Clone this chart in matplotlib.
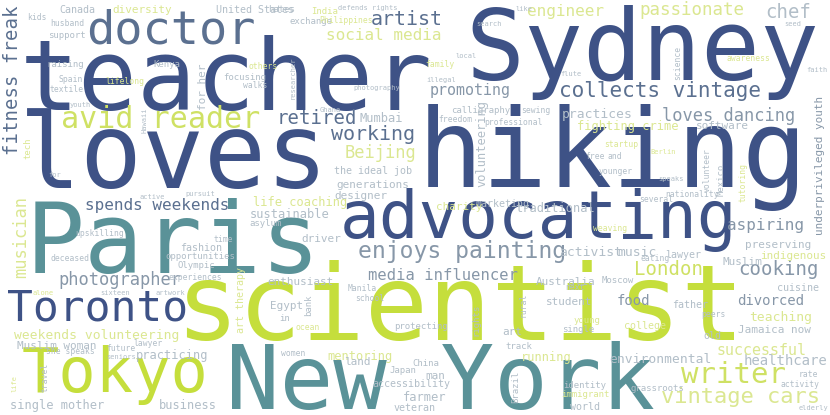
import matplotlib.pyplot as plt

# word cloud terms and their weights (weight ~ font size in px)
words = [
    "teacher", "Sydney", "loves", "hiking", "Paris", "scientist", "New York",
    "advocating", "doctor", "Toronto", "Tokyo", "avid reader", "collects vintage",
    "artist", "enjoys painting", "writer", "vintage cars", "fitness freak",
    "musician", "loves dancing", "passionate", "social media", "spends weekends",
    "photographer", "retired", "working", "Beijing", "promoting", "engineer",
    "chef", "media influencer", "aspiring", "London", "cooking", "divorced",
    "food", "healthcare", "successful", "teaching", "Jamaica now",
    "underprivileged youth", "volunteering", "practices", "fighting crime",
    "software", "traditional", "marketing", "charity", "activist", "music",
    "lawyer", "Muslim", "preserving", "indigenous", "generations", "designer",
    "the ideal job", "life coaching", "sustainable", "asylum", "driver",
    "enthusiast", "Australia", "student", "young", "single", "protecting",
    "art", "track", "running", "mentoring", "land", "man", "Japan", "China",
    "accessibility", "farmer", "veteran", "Egypt", "in", "school", "Manila",
    "women", "ocean", "bank", "rights", "rural", "Brazil", "identity", "world",
    "immigrant", "art therapy", "Canada", "diversity", "United States", "kids",
    "husband", "support", "raising", "Kenya", "Spain", "lifelong", "textile",
    "youth", "focusing", "walks", "others", "for her", "hates", "India",
    "defends rights", "exchange", "Philippines", "like", "search", "local",
    "family", "illegal", "photography", "researcher", "Ghana", "Mumbai",
    "calligraphy", "freedom", "professional", "sewing", "seed", "science",
    "awareness", "faith", "flute", "startup", "Berlin", "free", "and",
    "younger", "Mexico", "volunteer", "speaks", "tutoring", "nationality",
    "several", "weaving", "eating", "upskilling", "for", "deceased", "fashion",
    "opportunities", "time", "Olympic", "experiences", "active", "pursuit",
    "tech", "Muslim woman", "she speaks", "weekends volunteering", "alone",
    "sixteen", "artwork", "future", "lawyer", "seniors", "practicing",
    "single mother", "business", "travel", "life", "cuisine", "Moscow", "next",
    "father", "peers", "old", "college", "environmental", "rate", "activity",
    "grassroots", "elderly", "Hawaii",
]
weights = [
    98, 98, 103, 108, 98, 105, 89,
    66, 47, 43, 62, 30, 21,
    20, 23, 29, 22, 19,
    17, 17, 17.5, 16, 16,
    17, 19, 20, 17, 15, 16,
    19, 15.5, 16, 19, 19, 14,
    14, 14, 15, 13, 11,
    11, 12, 13, 12,
    11, 12, 10, 11, 13, 13,
    10, 11, 11, 11, 11, 11,
    10, 12, 12, 9, 11,
    11, 11, 11, 9, 9, 9,
    11, 9, 12, 12, 11, 11, 9, 9,
    10, 12, 10, 11, 9, 8, 8,
    8, 8, 9, 9, 8, 9, 9, 10,
    9, 10, 10, 11, 10, 8,
    8, 9, 9, 9, 8, 8, 8,
    7, 9, 8, 8, 11, 9, 9,
    7, 9, 8, 7, 7, 7,
    8, 7, 7, 7, 7, 12,
    9, 8, 8, 8, 7, 8,
    8, 7, 7, 8, 7, 8, 8,
    8, 9, 8, 7, 8, 8,
    8, 8, 8, 8, 7, 8, 10,
    9, 8, 9, 8, 7, 7,
    9, 11, 8, 13, 7,
    7, 7, 8, 8, 7, 12,
    12, 12, 8, 7, 10, 9, 8,
    10, 8, 10, 10, 13, 8, 8,
    9, 7, 7,
]

# layout: x, y (centre / baseline in px), rotation, colour tone
layout = [
    (226, 110, 0, "dk"), (642, 80, 0, "dk"), (174, 188, 0, "dk"), (613, 187, 0, "dk"),
    (173, 273, 0, "tl"), (460, 340, 0, "lm"), (440, 409, 0, "tl"),
    (538, 238, 0, "dk"), (171, 43, 0, "sl"), (98, 320, 0, "dk"), (115, 392, 0, "lm"),
    (161, 128, 0, "yl"), (660, 97, 0, "sl"),
    (407, 25, 0, "sl"), (462, 258, 0, "gr"), (733, 383, 0, "yl"), (740, 403, 0, "ly"),
    (18, 80, 90, "sl"),
    (26, 237, 90, "ly"), (729, 121, 0, "gr"), (692, 15, 0, "ly"), (384, 40, 0, "ly"),
    (157, 210, 0, "sl"),
    (120, 285, 0, "gr"), (317, 124, 0, "sl"), (373, 140, 0, "sl"), (380, 158, 0, "ly"),
    (470, 95, 0, "gr"), (565, 16, 0, "ly"),
    (788, 18, 0, "lg"), (443, 280, 0, "gr"), (765, 230, 0, "gr"), (668, 275, 0, "yl"),
    (778, 275, 0, "gr"), (771, 305, 0, "gr"),
    (633, 305, 0, "gr"), (785, 365, 0, "lg"), (761, 355, 0, "ly"), (781, 317, 0, "ly"),
    (774, 330, 0, "lg"),
    (823, 165, 90, "gr"), (485, 143, 90, "lg"), (597, 114, 0, "lg"), (628, 126, 0, "ly"),
    (722, 126, 0, "lg"), (555, 208, 0, "lg"), (502, 204, 0, "lg"), (459, 207, 0, "ly"),
    (591, 252, 0, "lg"), (637, 252, 0, "lg"),
    (683, 255, 0, "lg"), (742, 262, 0, "lg"), (778, 245, 0, "lg"), (793, 256, 0, "ly"),
    (373, 185, 0, "lg"), (361, 196, 0, "lg"),
    (373, 171, 0, "lg"), (300, 202, 0, "ly"), (290, 214, 0, "lg"), (265, 223, 0, "lg"),
    (321, 239, 0, "lg"),
    (300, 282, 0, "lg"), (566, 282, 0, "lg"), (569, 302, 0, "lg"), (587, 320, 0, "ly"),
    (578, 329, 0, "lg"), (421, 326, 0, "lg"),
    (512, 332, 0, "lg"), (519, 346, 0, "lg"), (546, 357, 0, "ly"), (360, 356, 0, "ly"),
    (357, 362, 0, "lg"), (435, 376, 0, "lg"), (403, 370, 0, "lg"), (426, 363, 0, "lg"),
    (411, 384, 0, "lg"), (425, 397, 0, "lg"), (415, 408, 0, "lg"), (287, 306, 0, "lg"),
    (285, 318, 0, "lg"), (370, 299, 0, "lg"), (362, 289, 0, "lg"),
    (293, 354, 0, "lg"), (308, 328, 0, "ly"), (311, 305, 90, "lg"), (478, 320, 90, "lg"),
    (526, 305, 90, "lg"), (518, 387, 90, "lg"), (585, 385, 0, "lg"), (585, 407, 0, "lg"),
    (585, 394, 0, "ly"), (244, 300, 90, "ly"), (77, 10, 0, "lg"), (142, 10, 0, "ly"),
    (255, 10, 0, "lg"), (37, 18, 0, "lg"),
    (67, 24, 0, "lg"), (67, 35, 0, "lg"), (65, 64, 0, "lg"), (167, 64, 0, "lg"),
    (71, 80, 0, "lg"), (125, 82, 0, "ly"), (67, 90, 0, "lg"),
    (80, 105, 0, "lg"), (245, 77, 0, "lg"), (255, 86, 0, "lg"), (263, 67, 0, "ly"),
    (206, 87, 90, "lg"), (282, 9, 0, "lg"), (325, 11, 0, "ly"),
    (368, 8, 0, "lg"), (311, 21, 0, "lg"), (346, 21, 0, "ly"), (524, 9, 0, "lg"),
    (489, 24, 0, "lg"), (466, 56, 0, "lg"),
    (440, 65, 0, "ly"), (441, 80, 0, "lg"), (377, 88, 0, "lg"), (295, 78, 90, "lg"),
    (330, 110, 0, "lg"), (381, 118, 0, "lg"),
    (481, 110, 0, "lg"), (455, 120, 0, "lg"), (513, 123, 0, "lg"), (536, 111, 0, "lg"),
    (793, 24, 0, "lg"), (680, 63, 90, "lg"),
    (748, 59, 0, "ly"), (817, 70, 0, "lg"), (571, 74, 0, "lg"), (621, 145, 0, "ly"),
    (663, 152, 0, "ly"), (595, 157, 0, "lg"), (615, 157, 0, "lg"),
    (616, 172, 0, "lg"), (724, 180, 90, "lg"), (710, 170, 90, "lg"), (671, 179, 0, "lg"),
    (746, 182, 90, "ly"), (692, 195, 0, "lg"),
    (656, 200, 0, "lg"), (610, 229, 0, "ly"), (655, 259, 0, "lg"), (100, 234, 0, "lg"),
    (55, 175, 0, "lg"), (70, 259, 0, "lg"), (201, 248, 0, "lg"),
    (200, 256, 0, "lg"), (223, 240, 0, "lg"), (196, 265, 0, "lg"), (195, 278, 0, "lg"),
    (152, 197, 0, "lg"), (200, 194, 0, "lg"),
    (30, 148, 90, "ly"), (57, 346, 0, "lg"), (70, 352, 0, "lg"), (97, 335, 0, "ly"),
    (43, 293, 0, "ly"),
    (115, 293, 0, "lg"), (170, 293, 0, "lg"), (121, 349, 0, "lg"), (148, 344, 0, "lg"),
    (121, 357, 0, "lg"), (172, 355, 0, "lg"),
    (57, 405, 0, "lg"), (188, 405, 0, "lg"), (48, 377, 90, "lg"), (16, 383, 90, "ly"),
    (798, 288, 0, "lg"), (618, 280, 0, "lg"), (575, 288, 0, "lg"),
    (690, 305, 0, "lg"), (713, 315, 0, "lg"), (712, 336, 0, "lg"), (645, 326, 0, "ly"),
    (660, 359, 0, "lg"), (808, 375, 0, "lg"), (800, 385, 0, "lg"),
    (657, 388, 0, "lg"), (813, 408, 0, "lg"), (146, 120, 90, "lg"),
]

tones = {
    "dk": "#3e5286",
    "tl": "#5a9298",
    "lm": "#c5de3c",
    "yl": "#cfe164",
    "sl": "#5b7090",
    "gr": "#8797a8",
    "ly": "#dbe791",
    "lg": "#b2bec8",
}

fig = plt.figure(figsize=(8.3, 4.15), dpi=100)
ax = fig.add_axes([0, 0, 1, 1])
ax.set_xlim(0, 830)
ax.set_ylim(415, 0)
ax.axis("off")

for word, w, (x, y, rot, tone) in zip(words, weights, layout):
    if rot:
        ax.text(x, y, word, fontsize=w * 0.72, family="DejaVu Sans Mono",
                color=tones[tone], rotation=90, rotation_mode="anchor",
                ha="center", va="baseline")
    else:
        # small words are placed by their centre line, big ones by baseline
        yy = y if w >= 14 else y + w * 0.3
        ax.text(x, yy, word, fontsize=w * 0.72, family="DejaVu Sans Mono",
                color=tones[tone], ha="center", va="baseline")

fig.savefig("out.png", dpi=100, facecolor="white")
